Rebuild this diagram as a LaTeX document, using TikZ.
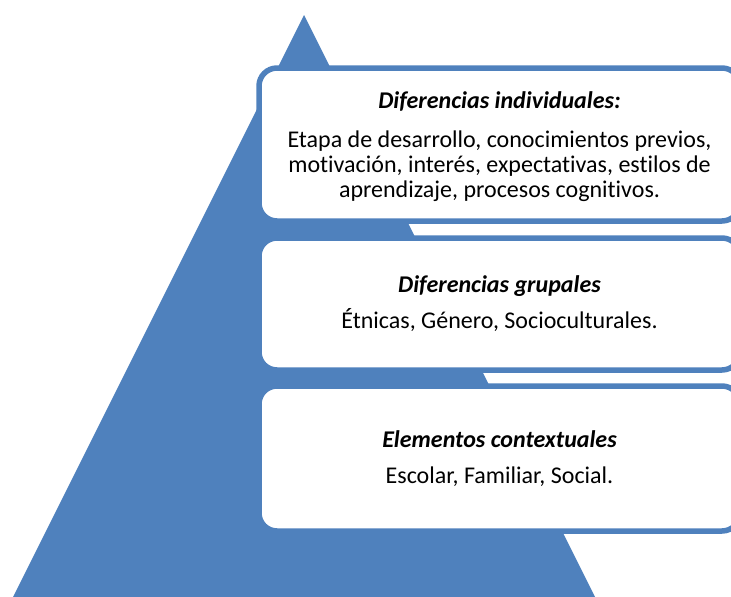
\documentclass[tikz,border=0pt]{standalone}
\usepackage{fontspec}
\setmainfont{Carlito}[Ligatures=NoCommon]
\definecolor{piramide}{RGB}{79,129,189}
\begin{document}
\begin{tikzpicture}[x=1pt,y=-1pt,
  caja/.style={draw=piramide,line width=5.5pt,fill=white,rounded corners=18pt,minimum width=481pt},
  texto/.style={anchor=base,align=center,font=\fontsize{24}{25}\selectfont},
  titulo/.style={texto,font=\fontsize{24}{25}\selectfont\bfseries\itshape}]
\useasboundingbox (0,0) rectangle (731,597);
\clip (0,0) rectangle (731,597);
\fill[piramide] (304,15) -- (9,605) -- (599,605) -- cycle;
\node[caja,minimum height=153pt] (individual) at (499.5,144.5) {};
\node[caja,minimum height=132pt] (grupal) at (499.5,304) {};
\node[caja,minimum height=145pt] (contexto) at (499.5,458.5) {};
% textos de cada caja
\node[titulo] (tindividual) at ([yshift=36.5pt]individual.center) {Diferencias individuales:};
\node[texto] (dindividual) at ([yshift=-52.5pt]individual.center)
  {Etapa de desarrollo, conocimientos previos,\\ motivación, interés, expectativas, estilos de\\ aprendizaje, procesos cognitivos.};
\node[titulo] (tgrupal) at ([yshift=12pt]grupal.center) {Diferencias grupales};
\node[texto] (dgrupal) at ([yshift=-24pt]grupal.center) {Étnicas, Género, Socioculturales.};
\node[titulo] (tcontexto) at ([yshift=11.5pt]contexto.center) {Elementos contextuales};
\node[texto] (dcontexto) at ([yshift=-24.5pt]contexto.center) {Escolar, Familiar, Social.};
\end{tikzpicture}
\end{document}
